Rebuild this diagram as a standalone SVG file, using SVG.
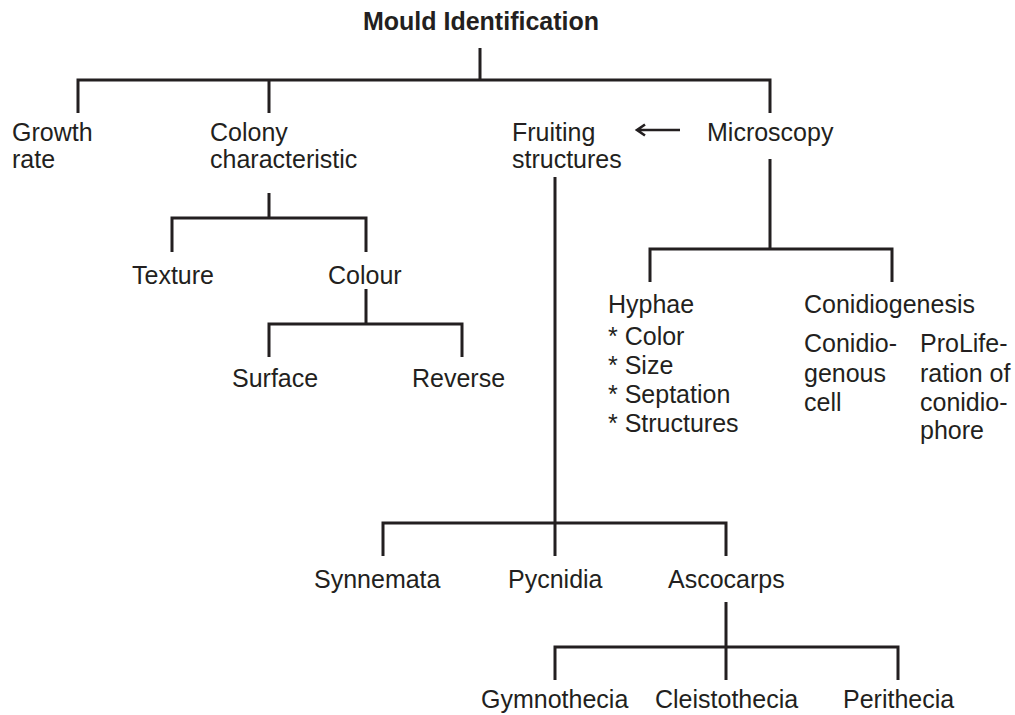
<svg xmlns="http://www.w3.org/2000/svg" width="1015" height="715" viewBox="0 0 1015 715">
<style>
text{font-family:"Liberation Sans",Arial,sans-serif;font-size:25px;fill:#231f20}
.t{font-weight:bold;text-anchor:middle}
.c{stroke:#231f20;stroke-width:3;fill:none;stroke-linecap:butt}
.a{stroke:#231f20;stroke-width:2.6;fill:none}
</style>
<rect width="1015" height="715" fill="#fff"/>
<g id="connectors">
<path class="c" d="M480 48V80M78 113V80H770V113M269 80V113"/>
<path class="c" d="M269 193V218M172 252V218H366V252"/>
<path class="c" d="M366 289V324M269 357V324H462V357"/>
<path class="c" d="M770 159V249M650 282V249H892V282"/>
<path class="c" d="M555 177V556M383 556V523H726V556"/>
<path class="c" d="M726 602V680M555 680V647H898V680"/>
<path class="a" d="M680 130H637M645 124.5L637 130L645 135.5"/>
</g>
<g id="n-root"><text class="t" x="481" y="30">Mould Identification</text></g>
<g id="n-growth"><text x="12" y="141">Growth</text><text x="12" y="168">rate</text></g>
<g id="n-colony"><text x="210" y="141">Colony</text><text x="210" y="168">characteristic</text></g>
<g id="n-fruiting"><text x="512" y="141">Fruiting</text><text x="512" y="168">structures</text></g>
<g id="n-microscopy"><text x="707" y="141">Microscopy</text></g>
<g id="n-texture"><text x="132" y="284">Texture</text></g>
<g id="n-colour"><text x="328" y="284">Colour</text></g>
<g id="n-surface"><text x="232" y="387">Surface</text></g>
<g id="n-reverse"><text x="412" y="387">Reverse</text></g>
<g id="n-hyphae"><text x="608" y="313">Hyphae</text><text x="608" y="345">* Color</text><text x="608" y="374">* Size</text><text x="608" y="403">* Septation</text><text x="608" y="432">* Structures</text></g>
<g id="n-conidiogenesis"><text x="804" y="313">Conidiogenesis</text></g>
<g id="n-conidiogenous"><text x="804" y="352">Conidio-</text><text x="804" y="382">genous</text><text x="804" y="411">cell</text></g>
<g id="n-proliferation"><text x="920" y="352">ProLife-</text><text x="920" y="382">ration of</text><text x="920" y="411">conidio-</text><text x="920" y="439">phore</text></g>
<g id="n-synnemata"><text x="314" y="588">Synnemata</text></g>
<g id="n-pycnidia"><text x="508" y="588">Pycnidia</text></g>
<g id="n-ascocarps"><text x="668" y="588">Ascocarps</text></g>
<g id="n-gymnothecia"><text x="481" y="708">Gymnothecia</text></g>
<g id="n-cleistothecia"><text x="655" y="708">Cleistothecia</text></g>
<g id="n-perithecia"><text x="843" y="708">Perithecia</text></g>
</svg>
